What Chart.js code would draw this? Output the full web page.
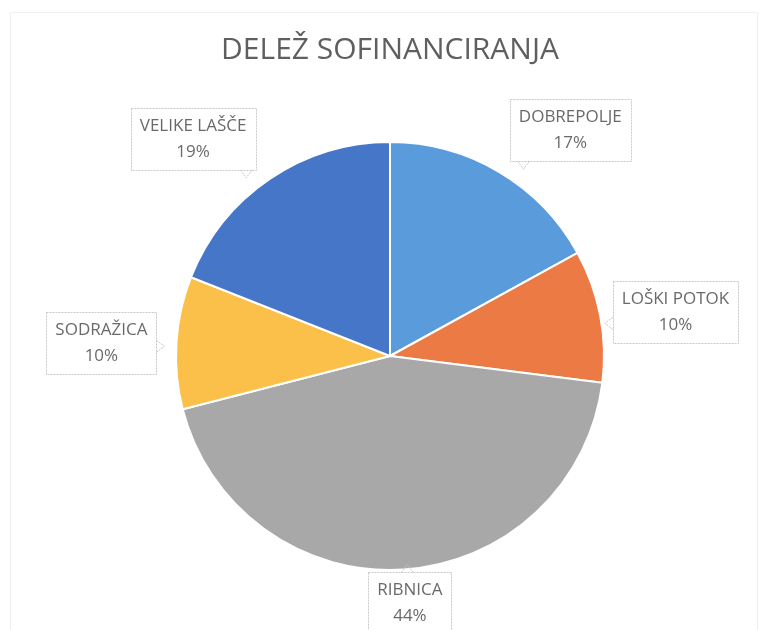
<!DOCTYPE html>
<html>
<head>
<meta charset="utf-8">
<script src="https://cdn.jsdelivr.net/npm/chart.js@4.4.0/dist/chart.umd.min.js"></script>
<style>
  html, body { margin: 0; padding: 0; background: #fff; }
  #wrap { width: 761px; height: 630px; }
</style>
</head>
<body>
<div id="wrap"><canvas id="myChart" width="761" height="630"></canvas></div>
<script>
var labels = ['DOBREPOLJE', 'LOŠKI POTOK', 'RIBNICA', 'SODRAŽICA', 'VELIKE LAŠČE'];
var shares = [17, 10, 44, 10, 19];
var colors = ['#5A9BDC', '#EC7A45', '#A8A8A8', '#FAC04A', '#4676C8'];

// where each callout sits: distance from centre (in radii) and angle nudge (deg)
var calloutDist = [1.35, 1.35, 1.16, 1.35, 1.37];
var calloutTurn = [8, 2, -1, -1, -8];

const calloutPlugin = {
  id: 'callouts',
  afterDatasetsDraw(chart) {
    const c = chart.ctx;
    const arcs = chart.getDatasetMeta(0).data;
    c.save();
    c.font = '17px "Open Sans", sans-serif';
    c.textAlign = 'center';
    c.textBaseline = 'middle';
    arcs.forEach(function (arc, i) {
      let mid = (arc.startAngle + arc.endAngle) / 2 + calloutTurn[i] * Math.PI / 180;
      let r = arc.outerRadius * calloutDist[i];
      let cx = arc.x + Math.cos(mid) * r;
      let cy = arc.y + Math.sin(mid) * r;
      let line1 = labels[i];
      let line2 = shares[i] + '%';
      let w = Math.max(c.measureText(line1).width, c.measureText(line2).width) + 18;
      let h = 62;
      let x0 = cx - w / 2, y0 = cy - h / 2;
      c.fillStyle = '#fff';
      c.strokeStyle = '#c8c8c8';
      c.lineWidth = 1;
      c.setLineDash([2, 1]);
      c.beginPath();
      c.rect(Math.round(x0) + 0.5, Math.round(y0) + 0.5, Math.round(w), h);
      c.fill();
      c.stroke();
      // small pointer toward the slice
      let ex = arc.x + Math.cos(mid) * arc.outerRadius;
      let ey = arc.y + Math.sin(mid) * arc.outerRadius;
      let px = Math.min(Math.max(ex, x0), x0 + w);
      let py = Math.min(Math.max(ey, y0), y0 + h);
      let dx = ex - px, dy = ey - py, d = Math.hypot(dx, dy) || 1;
      let tipx = px + dx / d * 8, tipy = py + dy / d * 8;
      c.beginPath();
      c.moveTo(px - dy / d * 6, py + dx / d * 6);
      c.lineTo(tipx, tipy);
      c.lineTo(px + dy / d * 6, py - dx / d * 6);
      c.stroke();
      c.setLineDash([]);
      c.fillStyle = '#6a6a6a';
      c.fillText(line1, cx, cy - 13);
      c.fillText(line2, cx, cy + 13);
    });
    c.restore();
  }
};

const framePlugin = {
  id: 'frame',
  beforeDraw(chart) {
    const c = chart.ctx;
    c.save();
    c.fillStyle = '#fff';
    c.fillRect(0, 0, chart.width, chart.height);
    c.strokeStyle = '#f0f0f0';
    c.strokeRect(10.5, 12.5, chart.width - 14, chart.height - 10);
    c.restore();
  }
};

const ctx = document.getElementById('myChart').getContext('2d');
new Chart(ctx, {
  type: 'pie',
  data: {
    labels: labels,
    datasets: [{
      data: shares,
      backgroundColor: colors,
      borderColor: '#ffffff',
      borderWidth: 2
    }]
  },
  options: {
    responsive: false,
    animation: false,
    layout: { padding: { left: 174, right: 155, top: 0, bottom: 59 } },
    plugins: {
      legend: { display: false },
      tooltip: { enabled: false },
      title: {
        display: true,
        text: 'DELEŽ SOFINANCIRANJA',
        color: '#5f5f5f',
        font: { size: 30, family: '"Open Sans", sans-serif', weight: 'normal' },
        padding: { top: 32, bottom: 73 }
      }
    }
  },
  plugins: [framePlugin, calloutPlugin]
});
</script>
</body>
</html>
